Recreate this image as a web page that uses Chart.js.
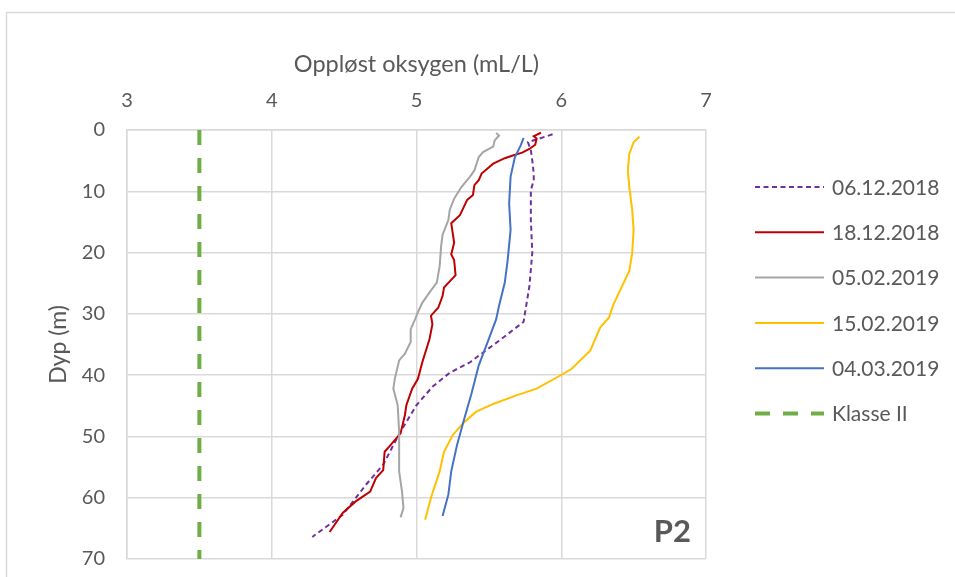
<!DOCTYPE html>
<html>
<head>
<meta charset="utf-8">
<script src="https://cdn.jsdelivr.net/npm/chart.js@4.4.1/dist/chart.umd.min.js"></script>
<style>
  html, body { margin: 0; padding: 0; background: #fff; }
  #wrap { width: 955px; height: 577px; }
</style>
</head>
<body>
<div id="wrap"><canvas id="oxygenChart" width="955" height="577"></canvas></div>
<script>
// depth (m) and dissolved oxygen (mL/L)
const depth_061218 = [0.7, 2.0, 3.3, 5.0, 7.1, 8.2, 9.8, 14.7, 20.0, 25.5, 29.8, 31.3, 34.4, 36.3, 37.9, 39.6, 41.9, 44.9, 49.6, 54.6, 57.9, 62.8, 66.4];
const oxy_061218 = [5.94, 5.77, 5.79, 5.80, 5.81, 5.81, 5.79, 5.79, 5.80, 5.78, 5.75, 5.74, 5.57, 5.46, 5.37, 5.23, 5.11, 5.00, 4.88, 4.77, 4.65, 4.49, 4.28];

const depth_181218 = [0.45, 1.0, 1.4, 2.4, 3.1, 3.7, 4.2, 4.6, 5.5, 7.1, 8.2, 9.0, 10.6, 11.4, 13.9, 15.2, 16.8, 18.4, 20.3, 21.2, 23.7, 24.7, 25.7, 27.1, 29.0, 30.3, 31.7, 34.1, 37.9, 40.6, 42.2, 44.9, 46.5, 49.5, 51.7, 52.5, 55.5, 56.8, 59.0, 60.6, 62.5, 65.6];
const oxy_181218 = [5.86, 5.81, 5.83, 5.82, 5.78, 5.73, 5.66, 5.61, 5.53, 5.45, 5.43, 5.40, 5.39, 5.35, 5.30, 5.24, 5.25, 5.26, 5.24, 5.26, 5.27, 5.23, 5.19, 5.18, 5.15, 5.10, 5.11, 5.09, 5.04, 5.01, 4.97, 4.93, 4.92, 4.89, 4.81, 4.78, 4.77, 4.72, 4.68, 4.58, 4.49, 4.40];

const depth_050219 = [0.5, 0.9, 1.7, 2.7, 3.6, 4.4, 6.6, 7.6, 9.3, 11.2, 13.0, 14.7, 17.1, 19.0, 22.2, 24.9, 26.5, 28.2, 29.7, 30.9, 32.5, 34.6, 36.5, 37.6, 40.6, 42.2, 44.9, 49.2, 55.7, 59.0, 61.7, 63.2];
const oxy_050219 = [5.55, 5.57, 5.54, 5.53, 5.46, 5.43, 5.40, 5.37, 5.31, 5.26, 5.23, 5.22, 5.18, 5.17, 5.16, 5.14, 5.09, 5.04, 5.01, 4.99, 4.96, 4.96, 4.92, 4.88, 4.85, 4.84, 4.87, 4.88, 4.88, 4.90, 4.91, 4.89];

const depth_150219 = [1.1, 2.0, 3.9, 6.6, 9.3, 13.0, 16.3, 20.1, 23.0, 26.5, 28.5, 30.6, 32.2, 36.0, 39.0, 40.1, 42.2, 43.3, 44.7, 46.0, 47.9, 49.8, 52.5, 55.7, 60.0, 63.6];
const oxy_150219 = [6.54, 6.50, 6.47, 6.46, 6.47, 6.49, 6.50, 6.49, 6.47, 6.40, 6.36, 6.33, 6.27, 6.20, 6.07, 5.99, 5.83, 5.69, 5.53, 5.41, 5.32, 5.25, 5.19, 5.16, 5.10, 5.06];

const depth_040319 = [1.3, 2.5, 4.4, 7.6, 12.0, 16.3, 21.2, 24.9, 28.7, 30.9, 34.7, 38.4, 43.0, 47.1, 51.4, 55.7, 59.5, 63.0];
const oxy_040319 = [5.74, 5.72, 5.68, 5.65, 5.64, 5.65, 5.63, 5.61, 5.57, 5.55, 5.49, 5.43, 5.38, 5.33, 5.28, 5.24, 5.22, 5.18];

// limit for "Klasse II"
const depth_klasse = [0, 70];
const oxy_klasse = [3.5, 3.5];

const seriesLabels = ["06.12.2018", "18.12.2018", "05.02.2019", "15.02.2019", "04.03.2019", "Klasse II"];
const xTicks = [3, 4, 5, 6, 7];
const yTicks = [0, 10, 20, 30, 40, 50, 60, 70];

const textColor = "#595959";
const gridColor = "#d9d9d9";
const fontFamily = "Lato, 'Open Sans', sans-serif";

function toPoints(xs, ys) {
  return xs.map((x, i) => ({ x: x, y: ys[i] }));
}

function makeSet(label, xs, ys, color, width, dash, order) {
  return {
    label: label,
    data: toPoints(xs, ys),
    borderColor: color,
    backgroundColor: color,
    borderWidth: width,
    borderDash: dash,
    pointRadius: 0,
    showLine: true,
    fill: false,
    tension: 0,
    order: order,
  };
}

const datasets = [
  makeSet(seriesLabels[0], oxy_061218, depth_061218, "#7030A0", 2, [5, 3.5], 6),
  makeSet(seriesLabels[1], oxy_181218, depth_181218, "#C00000", 2, [], 5),
  makeSet(seriesLabels[2], oxy_050219, depth_050219, "#A5A5A5", 2, [], 4),
  makeSet(seriesLabels[3], oxy_150219, depth_150219, "#FFC000", 2, [], 3),
  makeSet(seriesLabels[4], oxy_040319, depth_040319, "#4472C4", 2, [], 2),
  makeSet(seriesLabels[5], oxy_klasse, depth_klasse, "#70AD47", 4, [15, 13], 1),
];

// frame, legend and the P2 label
const extras = {
  id: "extras",
  beforeDraw(chart) {
    const ctx = chart.ctx;
    ctx.save();
    ctx.strokeStyle = gridColor;
    ctx.lineWidth = 1.5;
    ctx.strokeRect(6.5, 12.5, 1000, 1000);
    ctx.restore();
  },
  afterDraw(chart) {
    const ctx = chart.ctx;
    ctx.save();
    const rowY = 187;
    const rowStep = 45.3;
    chart.data.datasets.forEach((ds, i) => {
      const y = rowY + i * rowStep;
      ctx.strokeStyle = ds.borderColor;
      ctx.lineWidth = ds.borderWidth;
      ctx.setLineDash(ds.borderDash);
      ctx.beginPath();
      ctx.moveTo(755, y);
      ctx.lineTo(824, y);
      ctx.stroke();
      ctx.setLineDash([]);
      ctx.fillStyle = textColor;
      ctx.font = "21px " + fontFamily;
      ctx.textBaseline = "middle";
      ctx.textAlign = "left";
      ctx.fillText(ds.label, 832, y + 1);
    });
    ctx.font = "bold 31px " + fontFamily;
    ctx.textAlign = "right";
    ctx.textBaseline = "middle";
    ctx.fillText("P2", 691, 532);
    ctx.restore();
  },
};

const ctx = document.getElementById("oxygenChart").getContext("2d");
new Chart(ctx, {
  type: "scatter",
  data: { datasets: datasets },
  plugins: [extras],
  options: {
    responsive: false,
    animation: false,
    layout: { padding: { left: 0, top: 0, right: 249, bottom: 18 } },
    plugins: {
      legend: { display: false },
      tooltip: { enabled: false },
    },
    scales: {
      x: {
        type: "linear",
        position: "top",
        min: 3,
        max: 7,
        afterBuildTicks: (scale) => { scale.ticks = xTicks.map((v) => ({ value: v })); },
        afterFit: (scale) => { scale.height = 130; },
        grid: { color: gridColor, lineWidth: 1.5, drawTicks: false },
        border: { color: gridColor, width: 1.5 },
        ticks: { color: textColor, font: { family: fontFamily, size: 20 }, padding: 17 },
        title: {
          display: true,
          text: "Oppløst oksygen (mL/L)",
          color: textColor,
          font: { family: fontFamily, size: 23.5 },
          padding: { top: 50, bottom: 0 },
        },
      },
      y: {
        type: "linear",
        reverse: true,
        min: 0,
        max: 70,
        afterBuildTicks: (scale) => { scale.ticks = yTicks.map((v) => ({ value: v })); },
        afterFit: (scale) => {
          scale.width = 127;
          scale.paddingTop = 0;
          scale.paddingBottom = 0;
        },
        grid: { color: gridColor, lineWidth: 1.5, drawTicks: false },
        border: { color: gridColor, width: 1.5 },
        ticks: { color: textColor, font: { family: fontFamily, size: 20 }, padding: 22 },
        title: {
          display: true,
          text: "Dyp (m)",
          color: textColor,
          font: { family: fontFamily, size: 23 },
          padding: { top: 45, bottom: 0 },
        },
      },
    },
  },
});
</script>
</body>
</html>
